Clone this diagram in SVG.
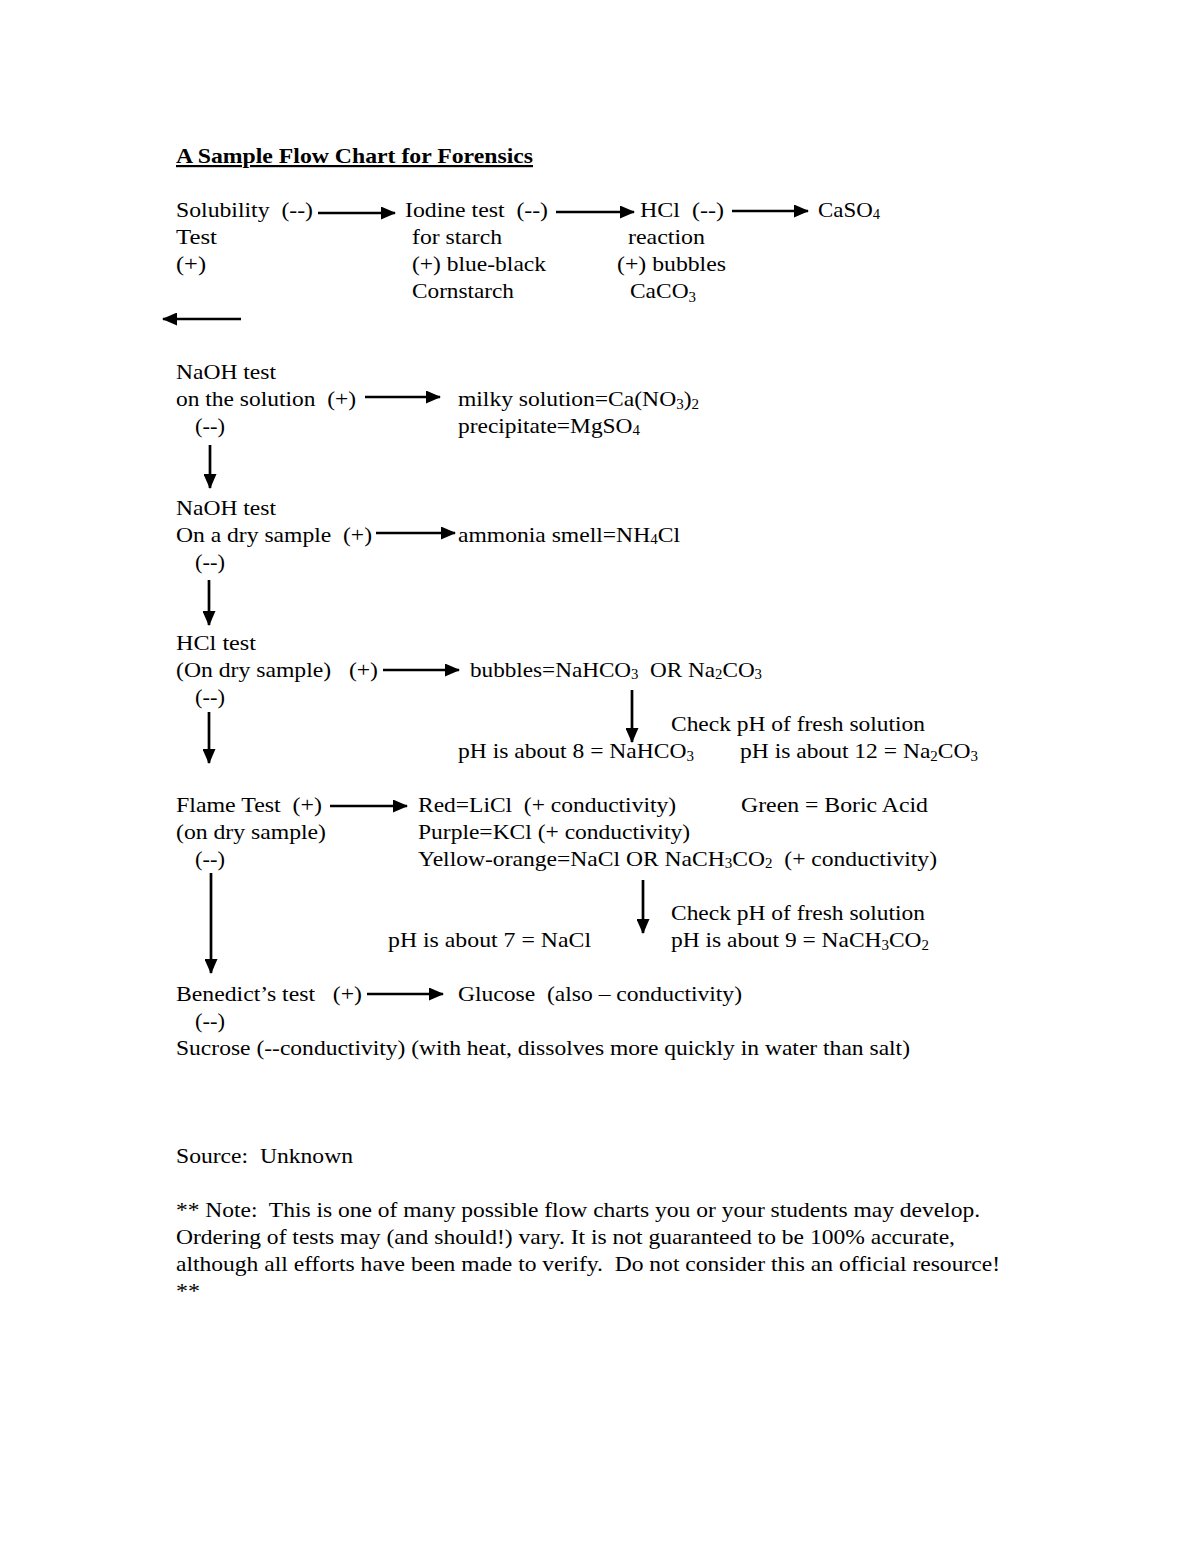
<svg xmlns="http://www.w3.org/2000/svg" width="1200" height="1553" viewBox="0 0 1200 1553">
<style>
text{font-family:"Liberation Serif","Times New Roman",serif;font-size:22px;fill:#000;white-space:pre}
.t{font-weight:bold;text-decoration:underline}
.s{font-size:14px}
.c{stroke:#000;stroke-width:2.7;fill:none;marker-end:url(#ah)}
</style>
<defs>
<marker id="ah" markerUnits="userSpaceOnUse" markerWidth="15" markerHeight="13" refX="14" refY="6.5" orient="auto"><path d="M0,0 L15,6.5 L0,13 z" fill="#000"/></marker>
</defs>
<rect width="1200" height="1553" fill="#fff"/>
<text class="t" x="176" y="163" textLength="357" lengthAdjust="spacingAndGlyphs">A Sample Flow Chart for Forensics</text>
<g id="connectors">
<line class="c" x1="318" y1="213" x2="395" y2="213"/>
<line class="c" x1="556" y1="212" x2="634" y2="212"/>
<line class="c" x1="732" y1="211" x2="808" y2="211"/>
<line class="c" x1="241" y1="319" x2="163" y2="319"/>
<line class="c" x1="365" y1="397" x2="440" y2="397"/>
<line class="c" x1="210" y1="445" x2="210" y2="488"/>
<line class="c" x1="376" y1="533" x2="455" y2="533"/>
<line class="c" x1="209" y1="580" x2="209" y2="625"/>
<line class="c" x1="383" y1="670" x2="459" y2="670"/>
<line class="c" x1="209" y1="712" x2="209" y2="763"/>
<line class="c" x1="632" y1="690" x2="632" y2="742"/>
<line class="c" x1="330" y1="806" x2="407" y2="806"/>
<line class="c" x1="211" y1="873" x2="211" y2="973"/>
<line class="c" x1="643" y1="880" x2="643" y2="933"/>
<line class="c" x1="367" y1="994" x2="443" y2="994"/>
</g>
<g id="solubility">
<text x="176" y="217" textLength="137" lengthAdjust="spacingAndGlyphs">Solubility  (--)</text>
<text x="176" y="244" textLength="41" lengthAdjust="spacingAndGlyphs">Test</text>
<text x="176" y="271" textLength="30" lengthAdjust="spacingAndGlyphs">(+)</text>
</g>
<g id="iodine">
<text x="405" y="217" textLength="143" lengthAdjust="spacingAndGlyphs">Iodine test  (--)</text>
<text x="412" y="244" textLength="90" lengthAdjust="spacingAndGlyphs">for starch</text>
<text x="412" y="271" textLength="134" lengthAdjust="spacingAndGlyphs">(+) blue-black</text>
<text x="412" y="298" textLength="102" lengthAdjust="spacingAndGlyphs">Cornstarch</text>
</g>
<g id="hcl-reaction">
<text x="640" y="217" textLength="84" lengthAdjust="spacingAndGlyphs">HCl  (--)</text>
<text x="628" y="244" textLength="77" lengthAdjust="spacingAndGlyphs">reaction</text>
<text x="617" y="271" textLength="109" lengthAdjust="spacingAndGlyphs">(+) bubbles</text>
<text x="630" y="298" textLength="66" lengthAdjust="spacingAndGlyphs">CaCO<tspan class="s" dy="4">3</tspan></text>
</g>
<g id="caso4">
<text x="818" y="217" textLength="62" lengthAdjust="spacingAndGlyphs">CaSO<tspan class="s" dy="2">4</tspan></text>
</g>
<g id="naoh-solution">
<text x="176" y="379" textLength="100" lengthAdjust="spacingAndGlyphs">NaOH test</text>
<text x="176" y="406" textLength="180" lengthAdjust="spacingAndGlyphs">on the solution  (+)</text>
<text x="195" y="433" textLength="30" lengthAdjust="spacingAndGlyphs">(--)</text>
</g>
<g id="naoh-solution-result">
<text x="458" y="406" textLength="241" lengthAdjust="spacingAndGlyphs">milky solution=Ca(NO<tspan class="s" dy="3">3</tspan><tspan dy="-3">)</tspan><tspan class="s" dy="3">2</tspan></text>
<text x="458" y="433" textLength="182" lengthAdjust="spacingAndGlyphs">precipitate=MgSO<tspan class="s" dy="2">4</tspan></text>
</g>
<g id="naoh-dry">
<text x="176" y="515" textLength="100" lengthAdjust="spacingAndGlyphs">NaOH test</text>
<text x="176" y="542" textLength="196" lengthAdjust="spacingAndGlyphs">On a dry sample  (+)</text>
<text x="195" y="569" textLength="30" lengthAdjust="spacingAndGlyphs">(--)</text>
</g>
<g id="naoh-dry-result">
<text x="458" y="542" textLength="222" lengthAdjust="spacingAndGlyphs">ammonia smell=NH<tspan class="s" dy="2">4</tspan><tspan dy="-2">Cl</tspan></text>
</g>
<g id="hcl-test">
<text x="176" y="650" textLength="80" lengthAdjust="spacingAndGlyphs">HCl test</text>
<text x="176" y="677" textLength="202" lengthAdjust="spacingAndGlyphs">(On dry sample)   (+)</text>
<text x="195" y="704" textLength="30" lengthAdjust="spacingAndGlyphs">(--)</text>
</g>
<g id="hcl-result">
<text x="470" y="677" textLength="292" lengthAdjust="spacingAndGlyphs">bubbles=NaHCO<tspan class="s" dy="2">3</tspan><tspan dy="-2">  OR Na</tspan><tspan class="s" dy="2">2</tspan><tspan dy="-2">CO</tspan><tspan class="s" dy="2">3</tspan></text>
</g>
<g id="hcl-ph">
<text x="671" y="731" textLength="254" lengthAdjust="spacingAndGlyphs">Check pH of fresh solution</text>
<text x="458" y="758" textLength="236" lengthAdjust="spacingAndGlyphs">pH is about 8 = NaHCO<tspan class="s" dy="3">3</tspan></text>
<text x="740" y="758" textLength="238" lengthAdjust="spacingAndGlyphs">pH is about 12 = Na<tspan class="s" dy="3">2</tspan><tspan dy="-3">CO</tspan><tspan class="s" dy="3">3</tspan></text>
</g>
<g id="flame">
<text x="176" y="812" textLength="146" lengthAdjust="spacingAndGlyphs">Flame Test  (+)</text>
<text x="176" y="839" textLength="150" lengthAdjust="spacingAndGlyphs">(on dry sample)</text>
<text x="195" y="866" textLength="30" lengthAdjust="spacingAndGlyphs">(--)</text>
</g>
<g id="flame-result">
<text x="418" y="812" textLength="258" lengthAdjust="spacingAndGlyphs">Red=LiCl  (+ conductivity)</text>
<text x="741" y="812" textLength="187" lengthAdjust="spacingAndGlyphs">Green = Boric Acid</text>
<text x="418" y="839" textLength="272" lengthAdjust="spacingAndGlyphs">Purple=KCl (+ conductivity)</text>
<text x="418" y="866" textLength="519" lengthAdjust="spacingAndGlyphs">Yellow-orange=NaCl OR NaCH<tspan class="s" dy="2">3</tspan><tspan dy="-2">CO</tspan><tspan class="s" dy="2">2</tspan><tspan dy="-2">  (+ conductivity)</tspan></text>
</g>
<g id="flame-ph">
<text x="671" y="920" textLength="254" lengthAdjust="spacingAndGlyphs">Check pH of fresh solution</text>
<text x="388" y="947" textLength="203" lengthAdjust="spacingAndGlyphs">pH is about 7 = NaCl</text>
<text x="671" y="947" textLength="258" lengthAdjust="spacingAndGlyphs">pH is about 9 = NaCH<tspan class="s" dy="3">3</tspan><tspan dy="-3">CO</tspan><tspan class="s" dy="3">2</tspan></text>
</g>
<g id="benedict">
<text x="176" y="1001" textLength="186" lengthAdjust="spacingAndGlyphs">Benedict’s test   (+)</text>
<text x="195" y="1028" textLength="30" lengthAdjust="spacingAndGlyphs">(--)</text>
</g>
<g id="glucose">
<text x="458" y="1001" textLength="284" lengthAdjust="spacingAndGlyphs">Glucose  (also – conductivity)</text>
</g>
<g id="sucrose">
<text x="176" y="1055" textLength="734" lengthAdjust="spacingAndGlyphs">Sucrose (--conductivity) (with heat, dissolves more quickly in water than salt)</text>
</g>
<g id="notes">
<text x="176" y="1163" textLength="177" lengthAdjust="spacingAndGlyphs">Source:  Unknown</text>
<text x="176" y="1217" textLength="804" lengthAdjust="spacingAndGlyphs">** Note:  This is one of many possible flow charts you or your students may develop.</text>
<text x="176" y="1244" textLength="779" lengthAdjust="spacingAndGlyphs">Ordering of tests may (and should!) vary. It is not guaranteed to be 100% accurate,</text>
<text x="176" y="1271" textLength="824" lengthAdjust="spacingAndGlyphs">although all efforts have been made to verify.  Do not consider this an official resource!</text>
<text x="176" y="1298" textLength="24" lengthAdjust="spacingAndGlyphs">**</text>
</g>
</svg>
